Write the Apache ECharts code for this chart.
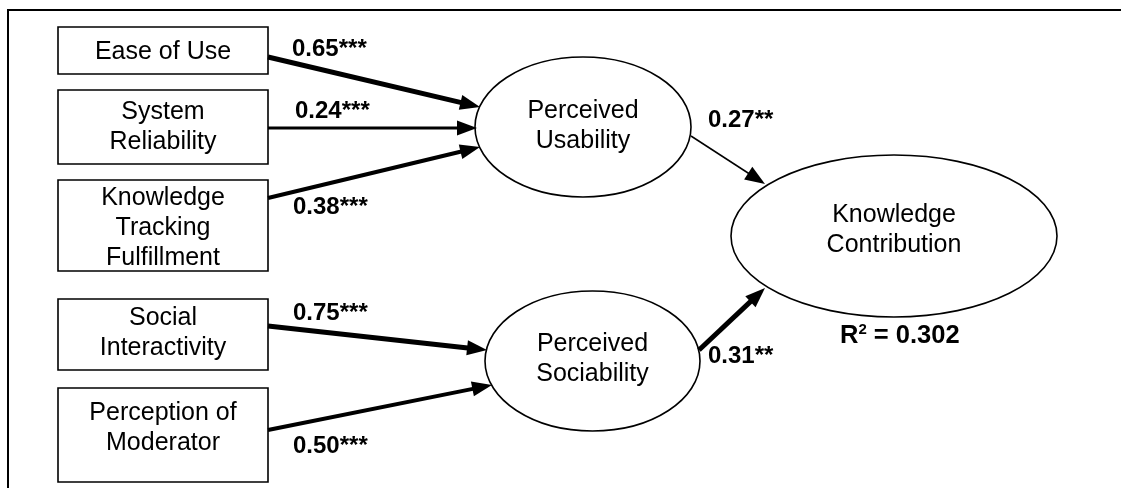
<!DOCTYPE html>
<html><head><meta charset="utf-8">
<script src="https://cdn.jsdelivr.net/npm/echarts@6/dist/echarts.min.js"></script>
<style>html,body{margin:0;padding:0;background:#fff}#c{width:1121px;height:488px}</style>
</head><body><div id="c"></div>
<script>
// ---- data ----
const constructs = ['Ease of Use', 'System\nReliability', 'Knowledge\nTracking\nFulfillment', 'Social\nInteractivity', 'Perception of\nModerator', 'Perceived\nUsability', 'Perceived\nSociability', 'Knowledge\nContribution'];
const constructKinds = ['observed', 'observed', 'observed', 'observed', 'observed', 'latent', 'latent', 'latent'];
const pathFrom = [0, 1, 2, 3, 4, 5, 6];
const pathTo = [5, 5, 5, 6, 6, 7, 7];
const pathCoefficients = [0.65, 0.24, 0.38, 0.75, 0.50, 0.27, 0.31];
const pathSignificance = ['***', '***', '***', '***', '***', '**', '**'];
const explainedConstruct = 7;
const rSquared = 0.302;

// ---- layout (diagram units = pixels) ----
const nodeLayout = [
  {cx: 163, cy: 50.5, w: 210, h: 47, ty: 52},
  {cx: 163, cy: 127, w: 210, h: 74, ty: 127},
  {cx: 163, cy: 225.5, w: 210, h: 91, ty: 228},
  {cx: 163, cy: 334.5, w: 210, h: 71, ty: 333},
  {cx: 163, cy: 435, w: 210, h: 94, ty: 428},
  {cx: 583, cy: 127, w: 216, h: 140, ty: 126.5},
  {cx: 592.5, cy: 361, w: 215, h: 140, ty: 359},
  {cx: 894, cy: 236, w: 326, h: 162, ty: 230.5}
];
const pathLayout = [
  {x1: 268, y1: 57, x2: 480, y2: 107, lw: 5, lx: 292, ly: 49},
  {x1: 268, y1: 128, x2: 477, y2: 128, lw: 3, lx: 295, ly: 111.5},
  {x1: 268, y1: 198, x2: 480, y2: 147, lw: 4, lx: 293, ly: 207},
  {x1: 268, y1: 326, x2: 487, y2: 350, lw: 5, lx: 293, ly: 313},
  {x1: 268, y1: 430, x2: 492, y2: 385, lw: 4, lx: 293, ly: 446},
  {x1: 691, y1: 136, x2: 765, y2: 184, lw: 1.5, lx: 708, ly: 120},
  {x1: 699, y1: 350, x2: 765, y2: 288, lw: 5, lx: 708, ly: 356.5}
];
const r2Layout = {x: 840, y: 336};
const FONT = '"Liberation Sans", Arial, sans-serif';

const chart = echarts.init(document.getElementById('c'), null, {renderer: 'canvas'});
chart.setOption({
  animation: false,
  backgroundColor: '#fff',
  grid: {left: 0, right: 0, top: 0, bottom: 0},
  xAxis: {type: 'value', min: 0, max: 1121, show: false},
  yAxis: {type: 'value', min: 0, max: 488, inverse: true, show: false},
  graphic: [{
    type: 'polyline', silent: true,
    shape: {points: [[8, 490], [8, 10], [1125, 10]]},
    style: {stroke: '#000', lineWidth: 2, fill: null}
  }],
  series: [
    {
      type: 'custom', name: 'constructs', coordinateSystem: 'cartesian2d',
      data: constructs.map((name, i) => ({name, value: [nodeLayout[i].cx, nodeLayout[i].cy]})),
      renderItem(params, api) {
        const i = params.dataIndex, L = nodeLayout[i];
        const c = api.coord([api.value(0), api.value(1)]);
        const s = api.size([L.w, L.h]);
        const w = Math.abs(s[0]), h = Math.abs(s[1]);
        const t = api.coord([L.cx, L.ty]);
        const shape = constructKinds[i] === 'observed'
          ? {type: 'rect', shape: {x: c[0] - w / 2, y: c[1] - h / 2, width: w, height: h}, style: {fill: '#fff', stroke: '#000', lineWidth: 1.6}}
          : {type: 'ellipse', shape: {cx: c[0], cy: c[1], rx: w / 2, ry: h / 2}, style: {fill: '#fff', stroke: '#000', lineWidth: 1.6}};
        return {type: 'group', children: [shape, {
          type: 'text', x: t[0], y: t[1],
          style: {text: constructs[i], font: '25px ' + FONT, lineHeight: 30, fill: '#000', textAlign: 'center', textVerticalAlign: 'middle'}
        }]};
      }
    },
    {
      type: 'custom', name: 'paths', coordinateSystem: 'cartesian2d',
      data: pathCoefficients.map((v, i) => ({value: [pathLayout[i].x1, pathLayout[i].y1, pathLayout[i].x2, pathLayout[i].y2, v]})),
      renderItem(params, api) {
        const i = params.dataIndex, P = pathLayout[i];
        const a = api.coord([api.value(0), api.value(1)]);
        const b = api.coord([api.value(2), api.value(3)]);
        const dx = b[0] - a[0], dy = b[1] - a[1], len = Math.hypot(dx, dy);
        const ux = dx / len, uy = dy / len;
        const hl = 20, hw = 7.5;
        const bx = b[0] - ux * hl, by = b[1] - uy * hl;
        const lab = api.coord([P.lx, P.ly]);
        return {type: 'group', children: [
          {type: 'line', shape: {x1: a[0], y1: a[1], x2: bx + ux * 3, y2: by + uy * 3}, style: {stroke: '#000', lineWidth: P.lw}},
          {type: 'polygon', shape: {points: [[b[0], b[1]], [bx - uy * hw, by + ux * hw], [bx + uy * hw, by - ux * hw]]}, style: {fill: '#000'}},
          {type: 'text', x: lab[0], y: lab[1],
           style: {text: api.value(4).toFixed(2) + pathSignificance[i], font: 'bold 24px ' + FONT, fill: '#000', textAlign: 'left', textVerticalAlign: 'middle'}}
        ]};
      }
    },
    {
      type: 'custom', name: 'r2', coordinateSystem: 'cartesian2d',
      data: [{value: [r2Layout.x, r2Layout.y, rSquared]}],
      renderItem(params, api) {
        const p = api.coord([api.value(0), api.value(1)]);
        return {type: 'text', x: p[0], y: p[1],
          style: {
            text: '{b|R}{s|2}{b| = ' + api.value(2).toFixed(3) + '}',
            textAlign: 'left', textVerticalAlign: 'middle',
            rich: {
              b: {fontFamily: FONT, fontWeight: 'bold', fontSize: 25.5, lineHeight: 28, fill: '#000'},
              s: {fontFamily: FONT, fontWeight: 'bold', fontSize: 15, lineHeight: 15, verticalAlign: 'top', fill: '#000'}
            }
          }};
      }
    }
  ]
});
</script></body></html>
